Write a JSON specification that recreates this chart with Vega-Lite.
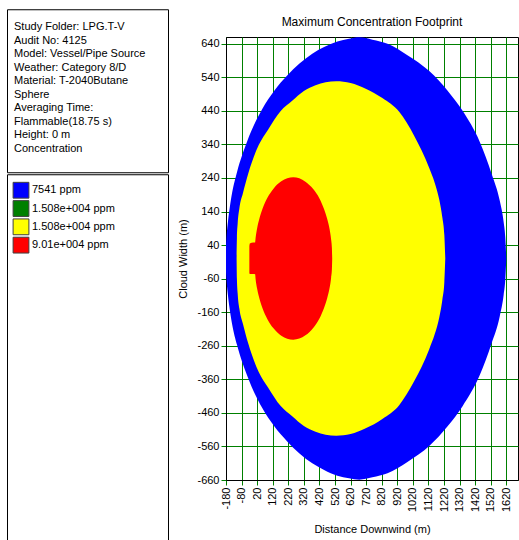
{
  "$schema": "https://vega.github.io/schema/vega-lite/v6.json",
  "padding": {"left": 6, "top": 7, "right": 0, "bottom": 0},
  "background": "white",
  "spacing": 8,
  "center": true,
  "datasets": {
    "info": [
      {"line": 1, "text": "Study Folder: LPG.T-V"},
      {"line": 2, "text": "Audit No: 4125"},
      {"line": 3, "text": "Model: Vessel/Pipe Source"},
      {"line": 4, "text": "Weather: Category 8/D"},
      {"line": 5, "text": "Material: T-2040Butane"},
      {"line": 6, "text": "Sphere"},
      {"line": 7, "text": "Averaging Time:"},
      {"line": 8, "text": "Flammable(18.75 s)"},
      {"line": 9, "text": "Height: 0 m"},
      {"line": 10, "text": "Concentration"}
    ],
    "legend": [
      {"item": 1, "level": "L1", "label": "7541 ppm"},
      {"item": 2, "level": "L2", "label": "1.508e+004 ppm"},
      {"item": 3, "level": "L3", "label": "1.508e+004 ppm"},
      {"item": 4, "level": "L4", "label": "9.01e+004 ppm"}
    ],
    "shapes": [
      {"level": "L1", "x": -180, "top": 40, "bottom": -40},
      {"level": "L1", "x": -177, "top": 62, "bottom": -62},
      {"level": "L1", "x": -172, "top": 90, "bottom": -90},
      {"level": "L1", "x": -167, "top": 112, "bottom": -112},
      {"level": "L1", "x": -155, "top": 155, "bottom": -155},
      {"level": "L1", "x": -141, "top": 195, "bottom": -195},
      {"level": "L1", "x": -109, "top": 258, "bottom": -258},
      {"level": "L1", "x": -45, "top": 348, "bottom": -348},
      {"level": "L1", "x": 52, "top": 445, "bottom": -445},
      {"level": "L1", "x": 130, "top": 500, "bottom": -500},
      {"level": "L1", "x": 213, "top": 545, "bottom": -545},
      {"level": "L1", "x": 290, "top": 580, "bottom": -580},
      {"level": "L1", "x": 374, "top": 610, "bottom": -610},
      {"level": "L1", "x": 450, "top": 630, "bottom": -630},
      {"level": "L1", "x": 535, "top": 647, "bottom": -647},
      {"level": "L1", "x": 610, "top": 655, "bottom": -655},
      {"level": "L1", "x": 676, "top": 659, "bottom": -659},
      {"level": "L1", "x": 760, "top": 652, "bottom": -652},
      {"level": "L1", "x": 857, "top": 640, "bottom": -640},
      {"level": "L1", "x": 985, "top": 606, "bottom": -606},
      {"level": "L1", "x": 1127, "top": 558, "bottom": -558},
      {"level": "L1", "x": 1243, "top": 500, "bottom": -500},
      {"level": "L1", "x": 1339, "top": 440, "bottom": -440},
      {"level": "L1", "x": 1449, "top": 348, "bottom": -348},
      {"level": "L1", "x": 1526, "top": 252, "bottom": -252},
      {"level": "L1", "x": 1578, "top": 172, "bottom": -172},
      {"level": "L1", "x": 1603, "top": 108, "bottom": -108},
      {"level": "L1", "x": 1613, "top": 65, "bottom": -65},
      {"level": "L1", "x": 1620, "top": 0, "bottom": 0},
      {"level": "L3", "x": -112, "top": 0, "bottom": 0},
      {"level": "L3", "x": -110, "top": 60, "bottom": -60},
      {"level": "L3", "x": -105, "top": 105, "bottom": -105},
      {"level": "L3", "x": -94, "top": 150, "bottom": -150},
      {"level": "L3", "x": -71, "top": 195, "bottom": -195},
      {"level": "L3", "x": -38, "top": 252, "bottom": -252},
      {"level": "L3", "x": 30, "top": 338, "bottom": -338},
      {"level": "L3", "x": 90, "top": 384, "bottom": -384},
      {"level": "L3", "x": 170, "top": 439, "bottom": -439},
      {"level": "L3", "x": 245, "top": 470, "bottom": -470},
      {"level": "L3", "x": 320, "top": 499, "bottom": -499},
      {"level": "L3", "x": 395, "top": 516, "bottom": -516},
      {"level": "L3", "x": 460, "top": 525, "bottom": -525},
      {"level": "L3", "x": 528, "top": 528, "bottom": -528},
      {"level": "L3", "x": 620, "top": 523, "bottom": -523},
      {"level": "L3", "x": 717, "top": 506, "bottom": -506},
      {"level": "L3", "x": 824, "top": 478, "bottom": -478},
      {"level": "L3", "x": 932, "top": 437, "bottom": -437},
      {"level": "L3", "x": 1028, "top": 366, "bottom": -366},
      {"level": "L3", "x": 1125, "top": 270, "bottom": -270},
      {"level": "L3", "x": 1160, "top": 226, "bottom": -226},
      {"level": "L3", "x": 1190, "top": 174, "bottom": -174},
      {"level": "L3", "x": 1210, "top": 120, "bottom": -120},
      {"level": "L3", "x": 1222, "top": 70, "bottom": -70},
      {"level": "L3", "x": 1228, "top": 0, "bottom": 0},
      {"level": "L4", "x": -30, "top": 37, "bottom": -43},
      {"level": "L4", "x": -27, "top": 45, "bottom": -46},
      {"level": "L4", "x": -5, "top": 48, "bottom": -46},
      {"level": "L4", "x": 7, "top": 48, "bottom": -47},
      {"level": "L4", "x": 10, "top": 61, "bottom": -61},
      {"level": "L4", "x": 20, "top": 90, "bottom": -90},
      {"level": "L4", "x": 35, "top": 120, "bottom": -120},
      {"level": "L4", "x": 55, "top": 149, "bottom": -149},
      {"level": "L4", "x": 85, "top": 180, "bottom": -180},
      {"level": "L4", "x": 125, "top": 208, "bottom": -208},
      {"level": "L4", "x": 175, "top": 230, "bottom": -230},
      {"level": "L4", "x": 252, "top": 242, "bottom": -242},
      {"level": "L4", "x": 330, "top": 229, "bottom": -229},
      {"level": "L4", "x": 380, "top": 207, "bottom": -207},
      {"level": "L4", "x": 420, "top": 179, "bottom": -179},
      {"level": "L4", "x": 450, "top": 147, "bottom": -147},
      {"level": "L4", "x": 470, "top": 118, "bottom": -118},
      {"level": "L4", "x": 485, "top": 88, "bottom": -88},
      {"level": "L4", "x": 495, "top": 57, "bottom": -57},
      {"level": "L4", "x": 500, "top": 31, "bottom": -31},
      {"level": "L4", "x": 502, "top": 0, "bottom": 0}
    ]
  },
  "hconcat": [
    {
      "spacing": 0,
      "vconcat": [
        {
          "width": 161,
          "height": 163,
          "data": {"name": "info"},
          "mark": {"type": "text", "align": "left", "baseline": "middle", "font": "Liberation Sans", "fontSize": 11, "color": "#000000"},
          "encoding": {
            "x": {"value": 7},
            "y": {"field": "line", "type": "quantitative", "scale": {"domain": [-0.333, 11.741], "reverse": true, "nice": false, "zero": false}, "axis": null},
            "text": {"field": "text"}
          }
        },
        {
          "width": 161,
          "height": 388,
          "data": {"name": "legend"},
          "encoding": {
            "y": {"field": "item", "type": "quantitative", "scale": {"domain": [0.126, 21.33], "reverse": true, "nice": false, "zero": false}, "axis": null}
          },
          "layer": [
            {
              "mark": {"type": "point", "shape": "square", "filled": true, "size": 250, "opacity": 1, "stroke": "#404040", "strokeWidth": 1},
              "encoding": {
                "x": {"value": 14},
                "color": {"field": "level", "type": "nominal", "scale": {"domain": ["L1", "L2", "L3", "L4"], "range": ["#0000ff", "#008000", "#ffff00", "#ff0000"]}, "legend": null}
              }
            },
            {
              "mark": {"type": "text", "align": "left", "baseline": "middle", "font": "Liberation Sans", "fontSize": 11, "color": "#000000"},
              "encoding": {
                "x": {"value": 25},
                "text": {"field": "label"}
              }
            }
          ]
        }
      ]
    },
    {
      "width": 292,
      "height": 443,
      "title": {"text": ["", "Maximum Concentration Footprint"], "anchor": "middle", "fontSize": 12, "lineHeight": 8, "offset": 8, "fontWeight": "normal", "font": "Liberation Sans", "color": "#000000"},
      "data": {"name": "shapes"},
      "encoding": {
        "x": {
          "field": "x", "type": "quantitative",
          "scale": {"domain": [-180, 1695], "nice": false, "zero": false},
          "axis": {"values": [-180, -80, 20, 120, 220, 320, 420, 520, 620, 720, 820, 920, 1020, 1120, 1220, 1320, 1420, 1520, 1620], "labelExpr": "'' + datum.value", "labelAngle": -90, "labelAlign": "right", "labelBaseline": "middle", "title": "Distance Downwind (m)", "titlePadding": 12, "labelFlush": false, "labelOverlap": false}
        },
        "y": {
          "field": "top", "type": "quantitative",
          "scale": {"domain": [-660, 660], "nice": false, "zero": false},
          "axis": {"values": [640, 540, 440, 340, 240, 140, 40, -60, -160, -260, -360, -460, -560, -660], "labelExpr": "'' + datum.value", "title": "Cloud Width (m)", "titlePadding": 8, "labelFlush": false, "labelOverlap": false}
        },
        "y2": {"field": "bottom"},
        "color": {"field": "level", "type": "nominal", "scale": {"domain": ["L1", "L2", "L3", "L4"], "range": ["#0000ff", "#008000", "#ffff00", "#ff0000"]}, "legend": null}
      },
      "layer": [
        {"transform": [{"filter": "datum.level === 'L1'"}], "mark": {"type": "area", "interpolate": "monotone", "opacity": 1, "clip": true}},
        {"transform": [{"filter": "datum.level === 'L3'"}], "mark": {"type": "area", "interpolate": "monotone", "opacity": 1, "clip": true}},
        {"transform": [{"filter": "datum.level === 'L4'"}], "mark": {"type": "area", "interpolate": "monotone", "opacity": 1, "clip": true}}
      ]
    }
  ],
  "config": {
    "font": "Liberation Sans",
    "view": {"stroke": "#000000", "strokeWidth": 1},
    "axis": {
      "labelFont": "Liberation Sans", "labelFontSize": 11, "labelColor": "#000000",
      "titleFont": "Liberation Sans", "titleFontSize": 11, "titleFontWeight": "normal", "titleColor": "#000000",
      "domainColor": "#000000", "tickColor": "#008000", "tickSize": 5, "labelPadding": 2,
      "grid": true, "gridColor": "#008000", "gridOpacity": 1, "gridWidth": 1
    },
    "title": {"font": "Liberation Sans", "fontSize": 12, "fontWeight": "normal", "color": "#000000"}
  }
}
